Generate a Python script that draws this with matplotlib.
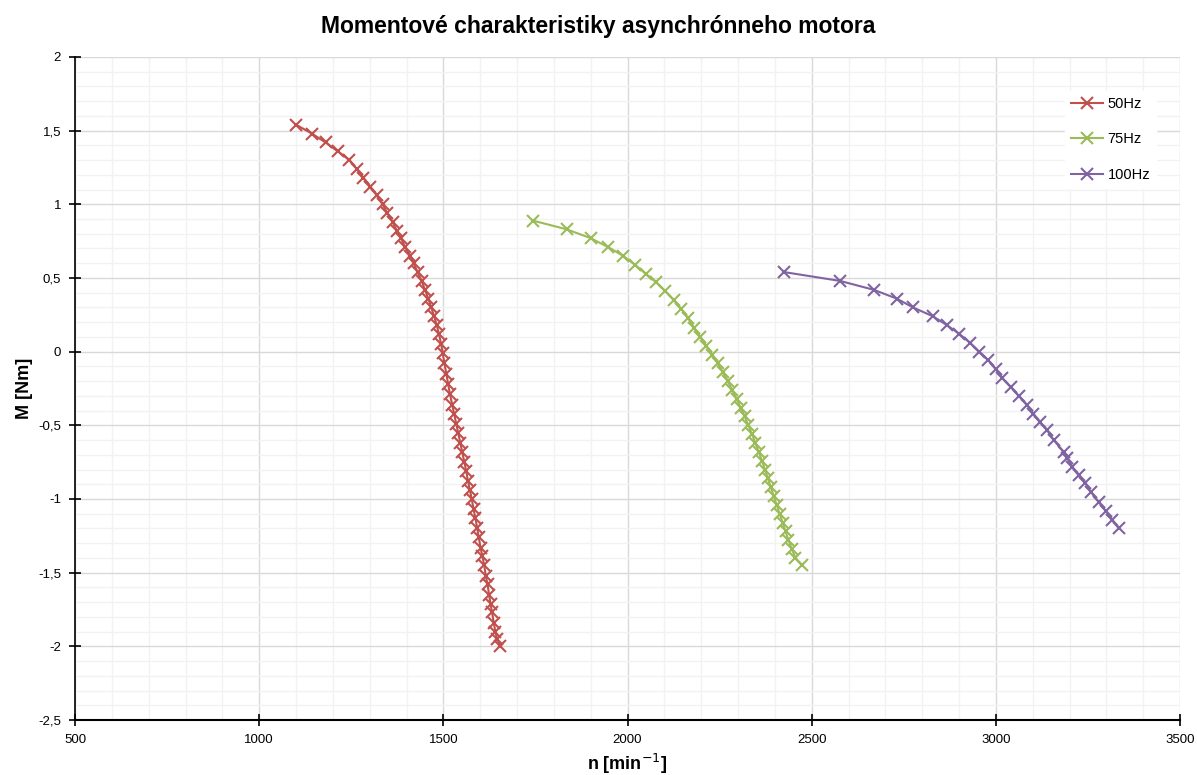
import numpy as np
import matplotlib.pyplot as plt
from matplotlib.ticker import MultipleLocator, FuncFormatter

plt.rcParams['font.family'] = ['Liberation Sans', 'DejaVu Sans']

# 50 Hz
n_50 = [1100, 1143, 1180, 1213, 1245, 1265, 1283, 1302, 1319, 1335, 1348, 1362,
        1374, 1385, 1396, 1410, 1419, 1430, 1441, 1450, 1459, 1467, 1475, 1482,
        1488, 1494, 1498, 1503, 1508, 1513, 1518, 1524, 1529, 1535, 1540, 1546,
        1551, 1557, 1562, 1567, 1572, 1577, 1582, 1587, 1592, 1596, 1601, 1606,
        1611, 1615, 1620, 1624, 1628, 1632, 1637, 1641, 1646, 1655]
M_50 = [1.54, 1.48, 1.42, 1.36, 1.30, 1.24, 1.18, 1.12, 1.06, 1.00, 0.94, 0.88,
        0.82, 0.77, 0.71, 0.65, 0.60, 0.54, 0.48, 0.42, 0.36, 0.30, 0.24, 0.18,
        0.12, 0.05, -0.01, -0.08, -0.15, -0.22, -0.29, -0.36, -0.42, -0.49, -0.55, -0.62,
        -0.68, -0.75, -0.81, -0.88, -0.94, -1.00, -1.07, -1.13, -1.20, -1.26, -1.33, -1.39,
        -1.45, -1.52, -1.58, -1.65, -1.71, -1.77, -1.84, -1.90, -1.95, -2.00]

# 75 Hz
n_75 = [1742, 1835, 1900, 1947, 1988, 2020, 2049, 2078, 2103, 2125, 2146, 2164,
        2181, 2198, 2214, 2230, 2245, 2259, 2272, 2284, 2296, 2307, 2318, 2328,
        2338, 2347, 2356, 2365, 2373, 2381, 2389, 2397, 2405, 2413, 2421, 2429,
        2437, 2446, 2456, 2473]
M_75 = [0.89, 0.83, 0.77, 0.71, 0.65, 0.59, 0.53, 0.47, 0.41, 0.35, 0.29, 0.23,
        0.16, 0.10, 0.04, -0.02, -0.08, -0.14, -0.20, -0.26, -0.32, -0.38, -0.44, -0.50,
        -0.56, -0.62, -0.68, -0.74, -0.80, -0.86, -0.92, -0.98, -1.04, -1.10, -1.16, -1.22,
        -1.28, -1.34, -1.40, -1.45]

# 100 Hz
n_100 = [2425, 2577, 2668, 2731, 2775, 2829, 2867, 2901, 2930, 2955, 2980, 3000,
         3018, 3040, 3062, 3084, 3102, 3120, 3138, 3157, 3184, 3193, 3207, 3225,
         3243, 3257, 3279, 3298, 3316, 3334]
M_100 = [0.54, 0.48, 0.42, 0.36, 0.30, 0.24, 0.18, 0.12, 0.06, 0.00, -0.06, -0.12,
         -0.18, -0.24, -0.30, -0.36, -0.42, -0.48, -0.53, -0.60, -0.68, -0.72, -0.78, -0.84,
         -0.89, -0.95, -1.02, -1.08, -1.14, -1.20]

series = [('50Hz', n_50, M_50, '#C0504D'),
          ('75Hz', n_75, M_75, '#9BBB59'),
          ('100Hz', n_100, M_100, '#8064A2')]

fig = plt.figure(figsize=(11.97, 7.75), dpi=100)
ax = fig.add_axes([0.0627, 0.071, 0.9231, 0.8555])

for label, n, M, c in series:
    ax.plot(n, M, color=c, lw=1.5, marker='x', ms=9, mew=1.5, label=label)

ax.set_xlim(500, 3500)
ax.set_ylim(-2.5, 2)
ax.xaxis.set_major_locator(MultipleLocator(500))
ax.xaxis.set_minor_locator(MultipleLocator(100))
ax.yaxis.set_major_locator(MultipleLocator(0.5))
ax.yaxis.set_minor_locator(MultipleLocator(0.1))
ax.yaxis.set_major_formatter(FuncFormatter(lambda v, p: f'{v:g}'.replace('.', ',')))

ax.grid(which='major', color='#D9D9D9', lw=1.0)
ax.grid(which='minor', color='#F2F2F2', lw=1.0)
ax.set_axisbelow(True)

for s in ['top', 'right']:
    ax.spines[s].set_visible(False)
ax.spines['left'].set_linewidth(1.2)
ax.spines['bottom'].set_linewidth(1.5)
ax.tick_params(which='major', direction='inout', length=8, width=1.2, labelsize=9.5, pad=6)
ax.tick_params(which='minor', length=0)

ax.set_xlabel('n [min$^{-1}$]', fontsize=13, fontweight='bold', labelpad=4)
ax.set_ylabel('M [Nm]', fontsize=13, fontweight='bold', labelpad=4)
fig.suptitle('Momentové charakteristiky asynchrónneho motora', fontsize=16.5,
             fontweight='bold', y=0.98)

leg = ax.legend(loc='upper right', bbox_to_anchor=(0.985, 0.96), frameon=True,
                fancybox=False, edgecolor='white', framealpha=1, fontsize=10.5,
                labelspacing=1.5, handlelength=2.2, handletextpad=0.3)

fig.savefig('out.png', dpi=100)
